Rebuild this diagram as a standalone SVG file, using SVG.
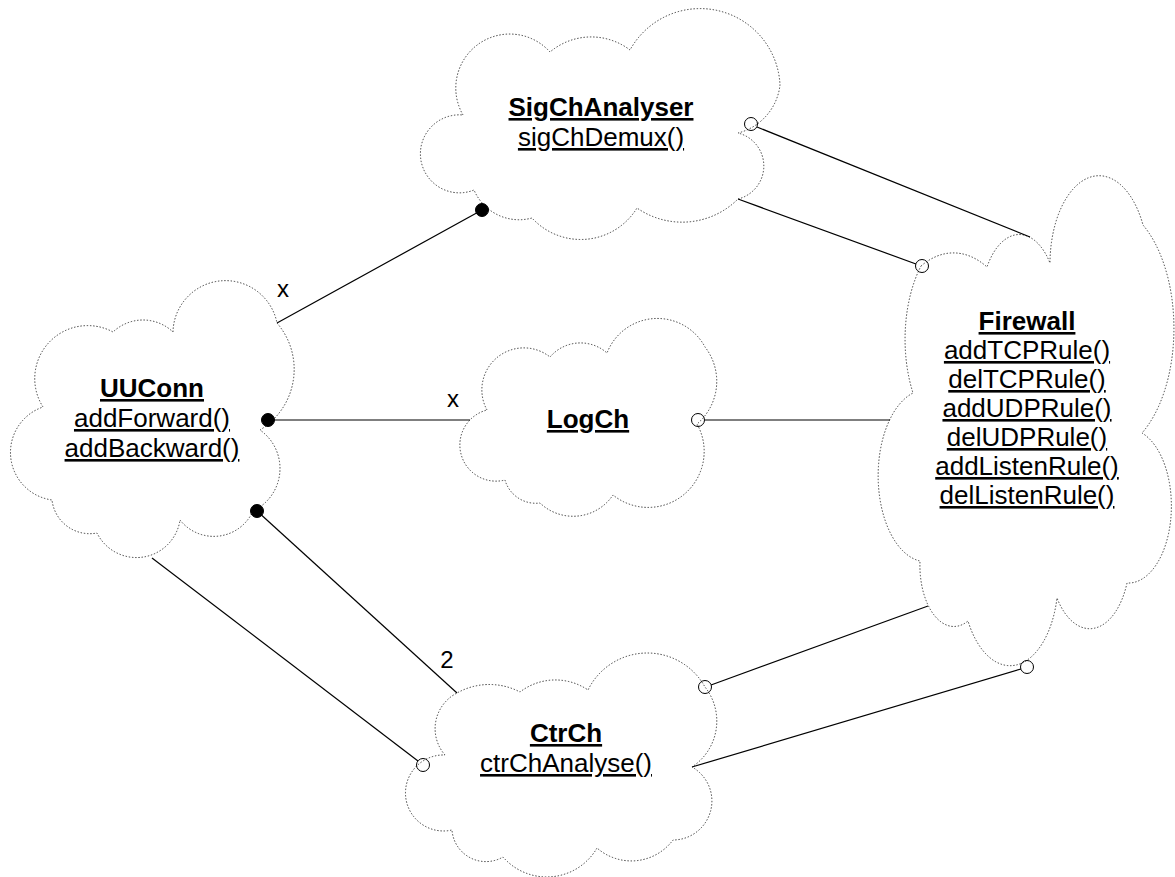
<svg xmlns="http://www.w3.org/2000/svg" width="1175" height="877" viewBox="0 0 1175 877">
  <style>
    .cloud { fill: #ffffff; stroke: #3a3a3a; stroke-width: 1; stroke-dasharray: 1.4 1.8; }
    .link { stroke: #000000; stroke-width: 1.2; fill: none; }
    .dot { fill: #000000; stroke: #000000; stroke-width: 1; }
    .port { fill: none; stroke: #000000; stroke-width: 1; }
    text { font-family: "Liberation Sans", Arial, sans-serif; font-size: 26px; fill: #000000; text-anchor: middle; }
    .title { font-weight: bold; text-decoration: underline; }
    .op { text-decoration: underline; }
    .lbl { font-size: 24px; }
  </style>

  <rect width="1175" height="877" fill="#ffffff"/>

  <!-- object clouds -->
  <g id="SigChAnalyser">
    <path class="cloud" d="M463,115 A54,54 0 0 1 550,52 A64,64 0 0 1 630,50 A80,80 0 0 1 780,85 A56,56 0 0 1 738,133 A34,34 0 0 1 738,199 A79,79 0 0 1 637,208 A66,66 0 0 1 532,218 A49,49 0 0 1 474,190 A39,39 0 1 1 463,115 Z"/>
    <text class="title" x="601" y="116">SigChAnalyser</text>
    <text class="op" x="601" y="146">sigChDemux()</text>
  </g>

  <g id="UUConn">
    <path class="cloud" d="M173,332 A52.5,52.5 0 0 1 277,323 A71,71 0 0 1 260,430 A47,47 0 0 1 253,511 A43,43 0 0 1 180,520 A44,44 0 0 1 97,533 A38,38 0 0 1 52,500 A48,48 0 0 1 43,407 A53,53 0 0 1 113,332 A43.5,43.5 0 0 1 173,332 Z"/>
    <text class="title" x="152" y="397">UUConn</text>
    <text class="op" x="152" y="427">addForward()</text>
    <text class="op" x="152" y="457">addBackward()</text>
  </g>

  <g id="LogCh">
    <path class="cloud" d="M487,410 A42,42 0 0 1 550,357 A40,40 0 0 1 607,353 A54,54 0 0 1 705,347 A56,56 0 0 1 697,424 A56,56 0 0 1 613,495 A48,48 0 0 1 540,503 A32,32 0 0 1 505,480 A36,36 0 0 1 487,410 Z"/>
    <text class="title" x="588" y="428">LogCh</text>
  </g>

  <g id="CtrCh">
    <path class="cloud" d="M445,755 A40,40 0 0 1 457,693 A66,66 0 0 1 520,692 A58,58 0 0 1 588,690 A66,66 0 0 1 705,687 A55,55 0 0 1 692,767 A39,39 0 0 1 673,840 A52,52 0 0 1 597,848 A58,58 0 0 1 503,857 A34,34 0 0 1 452,830 A38,38 0 1 1 445,755 Z"/>
    <text class="title" x="566" y="742">CtrCh</text>
    <text class="op" x="566" y="772">ctrChAnalyse()</text>
  </g>

  <g id="Firewall">
    <path class="cloud" d="M921,266 A76,137 0 0 1 987,267 A38,69 0 0 1 1050,263 A49,88 0 0 1 1143,225 A69,124 0 0 1 1142,433 A43,77 0 0 1 1127,583 A40,72 0 0 1 1057,598 A48,86 0 0 1 968,621 A34,61 0 0 1 920,561 A48,86 0 0 1 913,393 A60,108 0 0 1 921,266 Z"/>
    <text class="title" x="1027" y="330">Firewall</text>
    <text class="op" x="1027" y="359">addTCPRule()</text>
    <text class="op" x="1027" y="388">delTCPRule()</text>
    <text class="op" x="1027" y="417">addUDPRule()</text>
    <text class="op" x="1027" y="446">delUDPRule()</text>
    <text class="op" x="1027" y="475">addListenRule()</text>
    <text class="op" x="1027" y="504">delListenRule()</text>
  </g>

  <!-- links between objects -->
  <g id="connectors">
    <line class="link" x1="277" y1="323" x2="482" y2="210"/>
    <circle class="dot" cx="482" cy="210" r="6.5"/>
    <text class="lbl" x="283" y="297">x</text>

    <line class="link" x1="268" y1="420" x2="470" y2="420"/>
    <circle class="dot" cx="268" cy="420" r="6.5"/>
    <text class="lbl" x="453" y="407">x</text>

    <line class="link" x1="257" y1="511" x2="457" y2="693"/>
    <circle class="dot" cx="257" cy="511" r="6.5"/>
    <text class="lbl" x="447" y="668">2</text>

    <line class="link" x1="152" y1="558" x2="418" y2="761"/>
    <circle class="port" cx="423" cy="765" r="6.5"/>

    <line class="link" x1="757" y1="127" x2="1030" y2="237"/>
    <circle class="port" cx="751" cy="124" r="6.5"/>

    <line class="link" x1="738" y1="199" x2="916" y2="264"/>
    <circle class="port" cx="922" cy="266" r="6.5"/>

    <line class="link" x1="705" y1="420" x2="890" y2="420"/>
    <circle class="port" cx="698" cy="420" r="6.5"/>

    <line class="link" x1="711" y1="685" x2="928" y2="606"/>
    <circle class="port" cx="705" cy="687" r="6.5"/>

    <line class="link" x1="692" y1="767" x2="1021" y2="669"/>
    <circle class="port" cx="1027" cy="667" r="6.5"/>
  </g>
</svg>
